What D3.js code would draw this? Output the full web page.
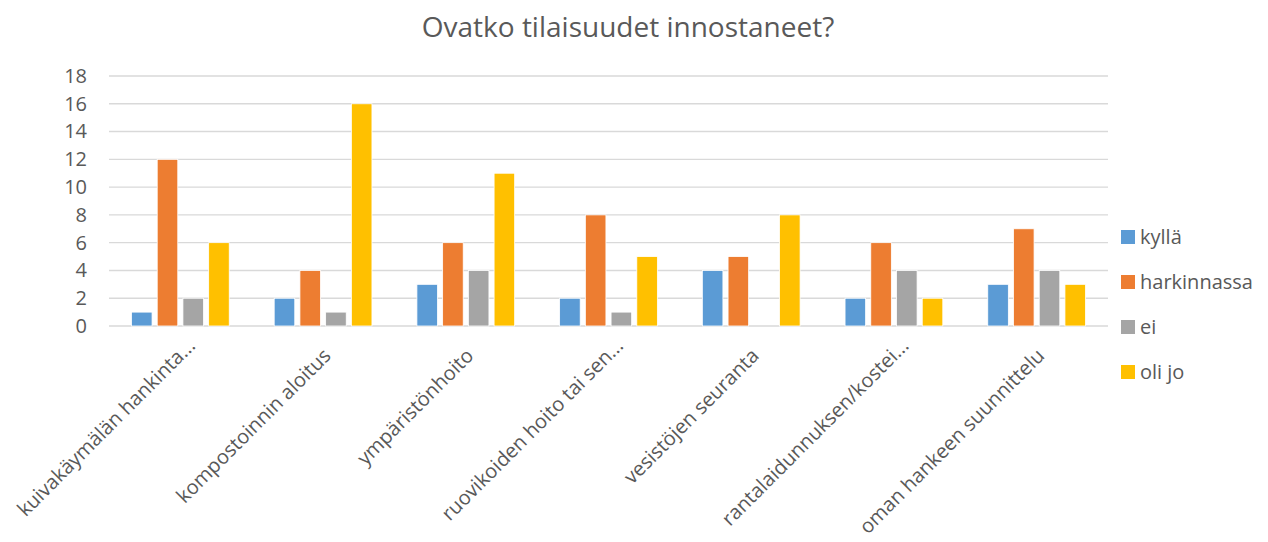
<!DOCTYPE html>
<html>
<head>
<meta charset="utf-8">
<script src="https://cdn.jsdelivr.net/npm/d3@7"></script>
<style>
body { margin: 0; background: #fff; }
text { font-family: "Open Sans", sans-serif; fill: #595959; }
</style>
</head>
<body>
<svg id="chart" width="1268" height="542"></svg>
<script>
const title = "Ovatko tilaisuudet innostaneet?";
const categories = [
  "kuivakäymälän hankinta...",
  "kompostoinnin aloitus",
  "ympäristönhoito",
  "ruovikoiden hoito tai sen...",
  "vesistöjen seuranta",
  "rantalaidunnuksen/kostei...",
  "oman hankeen suunnittelu"
];
const seriesNames = ["kyllä", "harkinnassa", "ei", "oli jo"];
const kylla = [1, 2, 3, 2, 4, 2, 3];
const harkinnassa = [12, 4, 6, 8, 5, 6, 7];
const ei = [2, 1, 4, 1, 0, 4, 4];
const oliJo = [6, 16, 11, 5, 8, 2, 3];
const yTicks = [0, 2, 4, 6, 8, 10, 12, 14, 16, 18];
const colors = ["#5B9BD5", "#ED7D31", "#A5A5A5", "#FFC000"];

const seriesValues = [kylla, harkinnassa, ei, oliJo];
const svg = d3.select("#chart");

const pLeft = 109, pRight = 1108, pTop = 76, pBottom = 326;

const x0 = d3.scaleBand().domain(categories).range([pLeft, pRight])
  .paddingInner(0.315).paddingOuter(0.1575);
const x1 = d3.scaleBand().domain(seriesNames).range([0, x0.bandwidth()])
  .paddingInner(0.2).paddingOuter(0);
const y = d3.scaleLinear().domain([0, 18]).range([pBottom, pTop]);

// title
svg.append("text").attr("x", 628).attr("y", 37).attr("text-anchor", "middle")
  .style("font-size", "28px").text(title);

// gridlines
svg.append("g").selectAll("line").data(yTicks).join("line")
  .attr("x1", pLeft).attr("x2", pRight)
  .attr("y1", d => y(d)).attr("y2", d => y(d))
  .attr("stroke", "#d9d9d9").attr("stroke-width", 1.4);

// y axis labels
const yAxis = d3.axisLeft(y).tickValues(yTicks).tickSize(0).tickPadding(0);
const gy = svg.append("g").attr("transform", `translate(87,0)`).call(yAxis);
gy.select(".domain").remove();
gy.selectAll("text").style("font-size", "20px").attr("fill", "#595959")
  .attr("font-family", "Open Sans");

// bars
const rows = categories.map((c, i) => ({cat: c, vals: seriesNames.map((s, j) => ({s, j, v: seriesValues[j][i]}))}));
const groups = svg.append("g").selectAll("g").data(rows).join("g")
  .attr("transform", d => `translate(${x0(d.cat)},0)`);
groups.selectAll("rect").data(d => d.vals).join("rect")
  .attr("x", d => x1(d.s)).attr("width", x1.bandwidth())
  .attr("y", d => y(d.v)).attr("height", d => y(0) - y(d.v))
  .attr("fill", d => colors[d.j])
  .attr("stroke", "#fff").attr("stroke-width", 0.8);

// x axis labels
const xAxis = d3.axisBottom(x0).tickSize(0).tickPadding(0);
const gx = svg.append("g").attr("transform", `translate(0,${pBottom})`).call(xAxis);
gx.select(".domain").remove();
gx.selectAll("text")
  .style("font-size", "20px").attr("fill", "#595959").attr("font-family", "Open Sans")
  .attr("text-anchor", "end")
  .attr("dy", null).attr("y", null)
  .attr("transform", d => d.endsWith("...") ? "translate(16,21) rotate(-45)" : "translate(9,31) rotate(-45)");

// legend
const lg = svg.append("g").selectAll("g").data(seriesNames).join("g")
  .attr("transform", (d, i) => `translate(1121,${237 + i * 45})`);
lg.append("rect").attr("x", 0).attr("y", -7).attr("width", 14).attr("height", 14)
  .attr("fill", (d, i) => colors[i]);
lg.append("text").attr("x", 19).attr("y", 0).attr("dy", "0.35em")
  .style("font-size", "20px").text(d => d);
</script>
</body>
</html>
